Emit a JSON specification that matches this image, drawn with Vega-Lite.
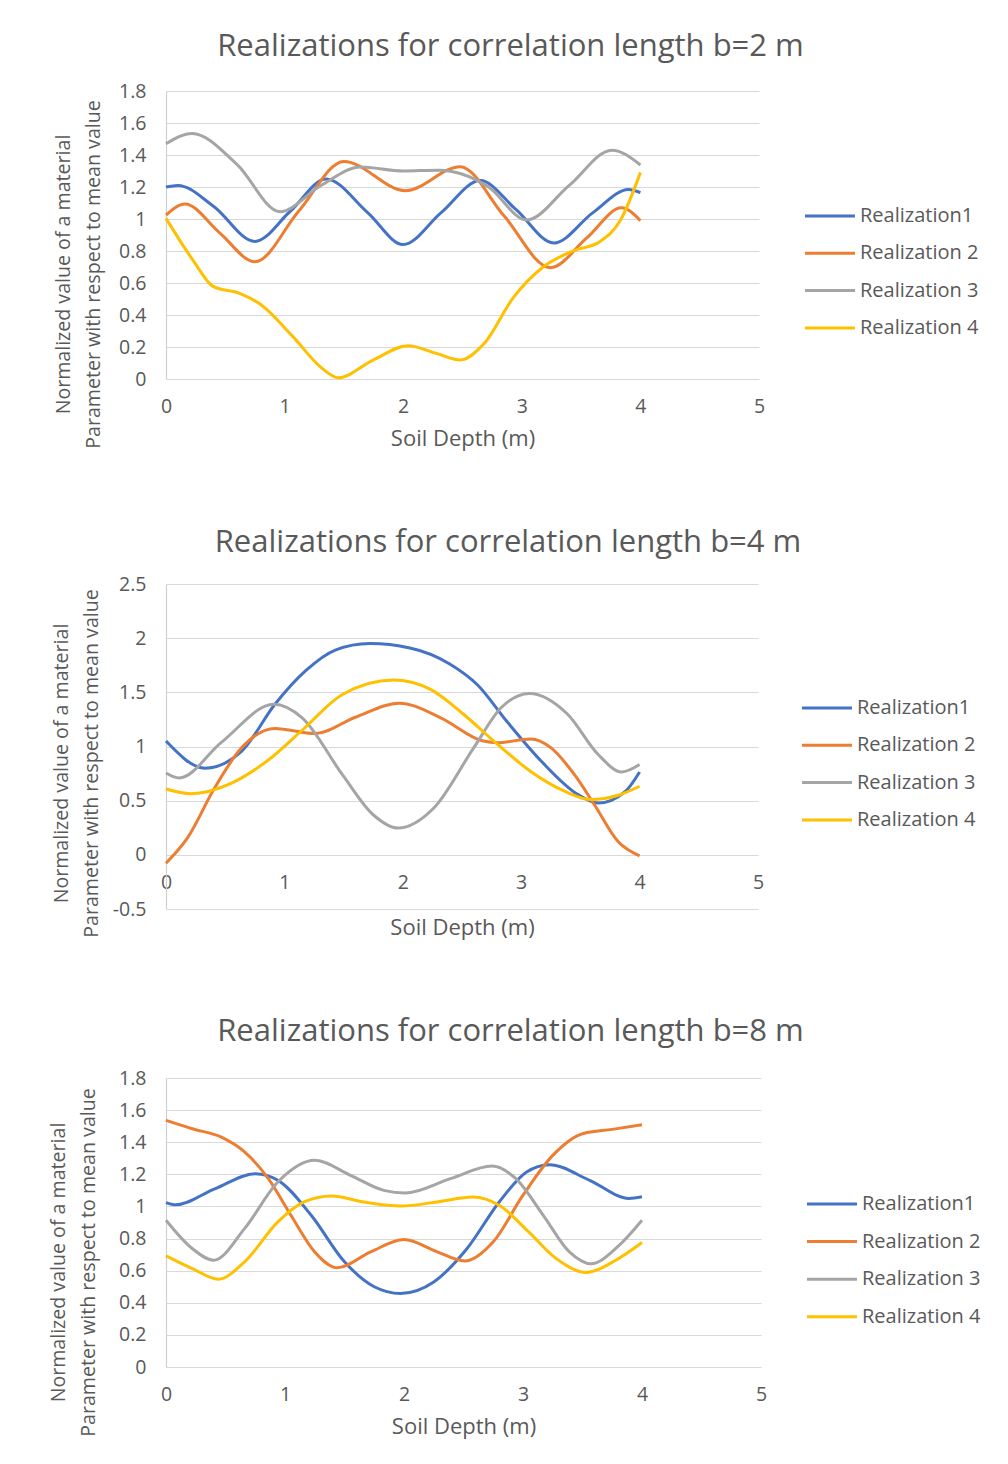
{
  "$schema": "https://vega.github.io/schema/vega-lite/v6.json",
  "background": "white",
  "padding": {"left": 47, "top": 31, "right": 0, "bottom": 10},
  "spacing": 77,
  "resolve": {"scale": {"color": "independent"}, "legend": {"color": "independent"}},
  "datasets": {
    "p1": [
      {"x": 0, "y": 1.2, "s": "Realization1"}, {"x": 0.1, "y": 1.21, "s": "Realization1"}, {"x": 0.4, "y": 1.08, "s": "Realization1"}, {"x": 0.75, "y": 0.86, "s": "Realization1"}, {"x": 1.05, "y": 1.05, "s": "Realization1"}, {"x": 1.35, "y": 1.25, "s": "Realization1"}, {"x": 1.7, "y": 1.04, "s": "Realization1"}, {"x": 2.0, "y": 0.84, "s": "Realization1"}, {"x": 2.32, "y": 1.04, "s": "Realization1"}, {"x": 2.65, "y": 1.24, "s": "Realization1"}, {"x": 2.95, "y": 1.06, "s": "Realization1"}, {"x": 3.27, "y": 0.85, "s": "Realization1"}, {"x": 3.6, "y": 1.04, "s": "Realization1"}, {"x": 3.9, "y": 1.185, "s": "Realization1"}, {"x": 4.0, "y": 1.165, "s": "Realization1"},
      {"x": 0, "y": 1.025, "s": "Realization 2"}, {"x": 0.16, "y": 1.094, "s": "Realization 2"}, {"x": 0.45, "y": 0.915, "s": "Realization 2"}, {"x": 0.75, "y": 0.733, "s": "Realization 2"}, {"x": 1.12, "y": 1.05, "s": "Realization 2"}, {"x": 1.5, "y": 1.36, "s": "Realization 2"}, {"x": 2.02, "y": 1.177, "s": "Realization 2"}, {"x": 2.48, "y": 1.327, "s": "Realization 2"}, {"x": 2.85, "y": 1.02, "s": "Realization 2"}, {"x": 3.24, "y": 0.696, "s": "Realization 2"}, {"x": 3.55, "y": 0.883, "s": "Realization 2"}, {"x": 3.84, "y": 1.07, "s": "Realization 2"}, {"x": 4.0, "y": 0.99, "s": "Realization 2"},
      {"x": 0, "y": 1.47, "s": "Realization 3"}, {"x": 0.22, "y": 1.535, "s": "Realization 3"}, {"x": 0.6, "y": 1.34, "s": "Realization 3"}, {"x": 0.96, "y": 1.046, "s": "Realization 3"}, {"x": 1.3, "y": 1.206, "s": "Realization 3"}, {"x": 1.64, "y": 1.325, "s": "Realization 3"}, {"x": 2.0, "y": 1.3, "s": "Realization 3"}, {"x": 2.3, "y": 1.305, "s": "Realization 3"}, {"x": 2.5, "y": 1.28, "s": "Realization 3"}, {"x": 2.72, "y": 1.2, "s": "Realization 3"}, {"x": 3.04, "y": 0.994, "s": "Realization 3"}, {"x": 3.4, "y": 1.21, "s": "Realization 3"}, {"x": 3.76, "y": 1.43, "s": "Realization 3"}, {"x": 4.0, "y": 1.3375, "s": "Realization 3"},
      {"x": 0, "y": 1.004, "s": "Realization 4"}, {"x": 0.23, "y": 0.74, "s": "Realization 4"}, {"x": 0.4, "y": 0.577, "s": "Realization 4"}, {"x": 0.62, "y": 0.535, "s": "Realization 4"}, {"x": 0.79, "y": 0.47, "s": "Realization 4"}, {"x": 1.07, "y": 0.265, "s": "Realization 4"}, {"x": 1.3, "y": 0.077, "s": "Realization 4"}, {"x": 1.45, "y": 0.008, "s": "Realization 4"}, {"x": 1.75, "y": 0.12, "s": "Realization 4"}, {"x": 2.04, "y": 0.208, "s": "Realization 4"}, {"x": 2.28, "y": 0.16, "s": "Realization 4"}, {"x": 2.48, "y": 0.119, "s": "Realization 4"}, {"x": 2.68, "y": 0.22, "s": "Realization 4"}, {"x": 2.93, "y": 0.51, "s": "Realization 4"}, {"x": 3.18, "y": 0.7, "s": "Realization 4"}, {"x": 3.43, "y": 0.8, "s": "Realization 4"}, {"x": 3.66, "y": 0.86, "s": "Realization 4"}, {"x": 3.83, "y": 0.99, "s": "Realization 4"}, {"x": 4.0, "y": 1.29, "s": "Realization 4"}
    ],
    "p2": [
      {"x": 0, "y": 1.05, "s": "Realization1"}, {"x": 0.33, "y": 0.8, "s": "Realization1"}, {"x": 0.64, "y": 0.957, "s": "Realization1"}, {"x": 0.92, "y": 1.39, "s": "Realization1"}, {"x": 1.18, "y": 1.7, "s": "Realization1"}, {"x": 1.43, "y": 1.89, "s": "Realization1"}, {"x": 1.72, "y": 1.95, "s": "Realization1"}, {"x": 2.06, "y": 1.91, "s": "Realization1"}, {"x": 2.4, "y": 1.76, "s": "Realization1"}, {"x": 2.63, "y": 1.57, "s": "Realization1"}, {"x": 2.88, "y": 1.23, "s": "Realization1"}, {"x": 3.17, "y": 0.864, "s": "Realization1"}, {"x": 3.48, "y": 0.556, "s": "Realization1"}, {"x": 3.65, "y": 0.478, "s": "Realization1"}, {"x": 3.88, "y": 0.586, "s": "Realization1"}, {"x": 4.0, "y": 0.765, "s": "Realization1"},
      {"x": 0, "y": -0.077, "s": "Realization 2"}, {"x": 0.18, "y": 0.154, "s": "Realization 2"}, {"x": 0.41, "y": 0.617, "s": "Realization 2"}, {"x": 0.64, "y": 0.99, "s": "Realization 2"}, {"x": 0.92, "y": 1.167, "s": "Realization 2"}, {"x": 1.26, "y": 1.12, "s": "Realization 2"}, {"x": 1.6, "y": 1.27, "s": "Realization 2"}, {"x": 1.97, "y": 1.4, "s": "Realization 2"}, {"x": 2.32, "y": 1.265, "s": "Realization 2"}, {"x": 2.68, "y": 1.05, "s": "Realization 2"}, {"x": 2.8, "y": 1.034, "s": "Realization 2"}, {"x": 3.08, "y": 1.07, "s": "Realization 2"}, {"x": 3.25, "y": 0.99, "s": "Realization 2"}, {"x": 3.45, "y": 0.74, "s": "Realization 2"}, {"x": 3.62, "y": 0.46, "s": "Realization 2"}, {"x": 3.82, "y": 0.12, "s": "Realization 2"}, {"x": 4.0, "y": -0.01, "s": "Realization 2"},
      {"x": 0, "y": 0.756, "s": "Realization 3"}, {"x": 0.11, "y": 0.71, "s": "Realization 3"}, {"x": 0.47, "y": 1.04, "s": "Realization 3"}, {"x": 0.91, "y": 1.39, "s": "Realization 3"}, {"x": 1.15, "y": 1.265, "s": "Realization 3"}, {"x": 1.49, "y": 0.74, "s": "Realization 3"}, {"x": 1.75, "y": 0.37, "s": "Realization 3"}, {"x": 1.96, "y": 0.247, "s": "Realization 3"}, {"x": 2.26, "y": 0.43, "s": "Realization 3"}, {"x": 2.6, "y": 0.99, "s": "Realization 3"}, {"x": 2.83, "y": 1.358, "s": "Realization 3"}, {"x": 3.07, "y": 1.49, "s": "Realization 3"}, {"x": 3.39, "y": 1.3, "s": "Realization 3"}, {"x": 3.65, "y": 0.926, "s": "Realization 3"}, {"x": 3.85, "y": 0.765, "s": "Realization 3"}, {"x": 4.0, "y": 0.833, "s": "Realization 3"},
      {"x": 0, "y": 0.608, "s": "Realization 4"}, {"x": 0.21, "y": 0.565, "s": "Realization 4"}, {"x": 0.55, "y": 0.66, "s": "Realization 4"}, {"x": 0.87, "y": 0.88, "s": "Realization 4"}, {"x": 1.15, "y": 1.15, "s": "Realization 4"}, {"x": 1.49, "y": 1.48, "s": "Realization 4"}, {"x": 1.92, "y": 1.614, "s": "Realization 4"}, {"x": 2.23, "y": 1.53, "s": "Realization 4"}, {"x": 2.51, "y": 1.3, "s": "Realization 4"}, {"x": 2.8, "y": 1.02, "s": "Realization 4"}, {"x": 3.08, "y": 0.77, "s": "Realization 4"}, {"x": 3.37, "y": 0.586, "s": "Realization 4"}, {"x": 3.59, "y": 0.51, "s": "Realization 4"}, {"x": 3.82, "y": 0.55, "s": "Realization 4"}, {"x": 4.0, "y": 0.633, "s": "Realization 4"}
    ],
    "p3": [
      {"x": 0, "y": 1.024, "s": "Realization1"}, {"x": 0.08, "y": 1.01, "s": "Realization1"}, {"x": 0.41, "y": 1.11, "s": "Realization1"}, {"x": 0.75, "y": 1.204, "s": "Realization1"}, {"x": 0.94, "y": 1.163, "s": "Realization1"}, {"x": 1.22, "y": 0.945, "s": "Realization1"}, {"x": 1.5, "y": 0.655, "s": "Realization1"}, {"x": 1.75, "y": 0.5, "s": "Realization1"}, {"x": 1.97, "y": 0.458, "s": "Realization1"}, {"x": 2.25, "y": 0.53, "s": "Realization1"}, {"x": 2.53, "y": 0.738, "s": "Realization1"}, {"x": 2.8, "y": 1.028, "s": "Realization1"}, {"x": 3.03, "y": 1.214, "s": "Realization1"}, {"x": 3.22, "y": 1.26, "s": "Realization1"}, {"x": 3.56, "y": 1.163, "s": "Realization1"}, {"x": 3.89, "y": 1.05, "s": "Realization1"}, {"x": 4.0, "y": 1.06, "s": "Realization1"},
      {"x": 0, "y": 1.536, "s": "Realization 2"}, {"x": 0.22, "y": 1.484, "s": "Realization 2"}, {"x": 0.47, "y": 1.43, "s": "Realization 2"}, {"x": 0.66, "y": 1.34, "s": "Realization 2"}, {"x": 0.86, "y": 1.173, "s": "Realization 2"}, {"x": 1.05, "y": 0.945, "s": "Realization 2"}, {"x": 1.25, "y": 0.717, "s": "Realization 2"}, {"x": 1.44, "y": 0.618, "s": "Realization 2"}, {"x": 1.72, "y": 0.717, "s": "Realization 2"}, {"x": 2.0, "y": 0.794, "s": "Realization 2"}, {"x": 2.28, "y": 0.717, "s": "Realization 2"}, {"x": 2.51, "y": 0.66, "s": "Realization 2"}, {"x": 2.75, "y": 0.78, "s": "Realization 2"}, {"x": 3.0, "y": 1.07, "s": "Realization 2"}, {"x": 3.25, "y": 1.318, "s": "Realization 2"}, {"x": 3.5, "y": 1.453, "s": "Realization 2"}, {"x": 3.75, "y": 1.48, "s": "Realization 2"}, {"x": 4.0, "y": 1.509, "s": "Realization 2"},
      {"x": 0, "y": 0.914, "s": "Realization 3"}, {"x": 0.22, "y": 0.738, "s": "Realization 3"}, {"x": 0.4, "y": 0.665, "s": "Realization 3"}, {"x": 0.66, "y": 0.862, "s": "Realization 3"}, {"x": 0.94, "y": 1.152, "s": "Realization 3"}, {"x": 1.25, "y": 1.287, "s": "Realization 3"}, {"x": 1.55, "y": 1.194, "s": "Realization 3"}, {"x": 1.83, "y": 1.1, "s": "Realization 3"}, {"x": 2.01, "y": 1.084, "s": "Realization 3"}, {"x": 2.39, "y": 1.173, "s": "Realization 3"}, {"x": 2.74, "y": 1.252, "s": "Realization 3"}, {"x": 2.94, "y": 1.173, "s": "Realization 3"}, {"x": 3.17, "y": 0.945, "s": "Realization 3"}, {"x": 3.39, "y": 0.717, "s": "Realization 3"}, {"x": 3.57, "y": 0.643, "s": "Realization 3"}, {"x": 3.81, "y": 0.759, "s": "Realization 3"}, {"x": 4.0, "y": 0.914, "s": "Realization 3"},
      {"x": 0, "y": 0.692, "s": "Realization 4"}, {"x": 0.22, "y": 0.613, "s": "Realization 4"}, {"x": 0.44, "y": 0.547, "s": "Realization 4"}, {"x": 0.66, "y": 0.655, "s": "Realization 4"}, {"x": 0.94, "y": 0.904, "s": "Realization 4"}, {"x": 1.16, "y": 1.028, "s": "Realization 4"}, {"x": 1.39, "y": 1.065, "s": "Realization 4"}, {"x": 1.66, "y": 1.028, "s": "Realization 4"}, {"x": 1.97, "y": 1.003, "s": "Realization 4"}, {"x": 2.28, "y": 1.028, "s": "Realization 4"}, {"x": 2.58, "y": 1.059, "s": "Realization 4"}, {"x": 2.8, "y": 1.007, "s": "Realization 4"}, {"x": 3.05, "y": 0.84, "s": "Realization 4"}, {"x": 3.28, "y": 0.675, "s": "Realization 4"}, {"x": 3.53, "y": 0.589, "s": "Realization 4"}, {"x": 3.78, "y": 0.665, "s": "Realization 4"}, {"x": 4.0, "y": 0.775, "s": "Realization 4"}
    ]
  },
  "vconcat": [
    {
      "width": 593, "height": 288,
      "title": {"text": "Realizations for correlation length b=2 m", "dx": 48},
      "data": {"name": "p1"},
      "mark": {"type": "line", "interpolate": "monotone", "strokeWidth": 3},
      "encoding": {
        "x": {"field": "x", "type": "quantitative", "scale": {"domain": [0, 5], "nice": false},
          "axis": {"title": "Soil Depth (m)", "values": [0, 1, 2, 3, 4, 5], "grid": false, "domain": false, "titlePadding": 13}},
        "y": {"field": "y", "type": "quantitative", "scale": {"domain": [0, 1.8], "nice": false},
          "axis": {"title": ["Normalized value of a material", "Parameter with respect to mean value"], "values": [0, 0.2, 0.4, 0.6, 0.8, 1, 1.2, 1.4, 1.6, 1.8], "titleX": -103, "titleY": 183}},
        "color": {"field": "s", "type": "nominal", "scale": {"domain": ["Realization1", "Realization 2", "Realization 3", "Realization 4"], "range": ["#4472C4", "#ED7D31", "#A5A5A5", "#FFC000"]},
          "legend": {"legendX": 650, "legendY": 111}}
      }
    },
    {
      "width": 592, "height": 325,
      "title": {"text": "Realizations for correlation length b=4 m", "dx": 46, "offset": 15},
      "data": {"name": "p2"},
      "mark": {"type": "line", "interpolate": "monotone", "strokeWidth": 3},
      "encoding": {
        "x": {"field": "x", "type": "quantitative", "scale": {"domain": [0, 5], "nice": false},
          "axis": {"title": "Soil Depth (m)", "values": [0, 1, 2, 3, 4, 5], "grid": false, "domain": false, "offset": -54, "titlePadding": 26}},
        "y": {"field": "y", "type": "quantitative", "scale": {"domain": [-0.5, 2.5], "nice": false},
          "axis": {"title": ["Normalized value of a material", "Parameter with respect to mean value"], "values": [-0.5, 0, 0.5, 1, 1.5, 2, 2.5], "titleX": -105, "titleY": 179}},
        "color": {"field": "s", "type": "nominal", "scale": {"domain": ["Realization1", "Realization 2", "Realization 3", "Realization 4"], "range": ["#4472C4", "#ED7D31", "#A5A5A5", "#FFC000"]},
          "legend": {"legendX": 647, "legendY": 110}}
      }
    },
    {
      "width": 595, "height": 289,
      "title": {"text": "Realizations for correlation length b=8 m", "dx": 47, "offset": 20},
      "data": {"name": "p3"},
      "mark": {"type": "line", "interpolate": "monotone", "strokeWidth": 3},
      "encoding": {
        "x": {"field": "x", "type": "quantitative", "scale": {"domain": [0, 5], "nice": false},
          "axis": {"title": "Soil Depth (m)", "values": [0, 1, 2, 3, 4, 5], "grid": false, "domain": false, "titlePadding": 13}},
        "y": {"field": "y", "type": "quantitative", "scale": {"domain": [0, 1.8], "nice": false},
          "axis": {"title": ["Normalized value of a material", "Parameter with respect to mean value"], "values": [0, 0.2, 0.4, 0.6, 0.8, 1, 1.2, 1.4, 1.6, 1.8], "titleX": -108, "titleY": 184}},
        "color": {"field": "s", "type": "nominal", "scale": {"domain": ["Realization1", "Realization 2", "Realization 3", "Realization 4"], "range": ["#4472C4", "#ED7D31", "#A5A5A5", "#FFC000"]},
          "legend": {"legendX": 652, "legendY": 112, "rowPadding": 13.6}}
      }
    }
  ],
  "config": {
    "font": "Open Sans",
    "view": {"stroke": null},
    "title": {"fontSize": 31, "fontWeight": "normal", "color": "#595959", "frame": "group", "anchor": "middle", "offset": 18},
    "axis": {
      "labelFontSize": 19.5, "labelColor": "#595959", "titleFontWeight": "normal", "titleColor": "#595959",
      "ticks": false, "gridColor": "#D9D9D9", "gridWidth": 1.2, "domainColor": "#D0D0D0", "domainWidth": 1.2,
      "labelExpr": "'' + datum.value"
    },
    "axisX": {"labelPadding": 18, "titleFontSize": 22, "labelFlush": false},
    "axisY": {"labelPadding": 20, "titleFontSize": 19.6, "titleAngle": -90, "titleBaseline": "middle", "titleAlign": "center", "titleLineHeight": 30},
    "legend": {
      "orient": "none", "title": null, "direction": "vertical", "padding": 0,
      "symbolType": "M-2,0H2", "symbolSize": 625, "symbolStrokeWidth": 3, "symbolStrokeColor": "#000",
      "labelFontSize": 20, "labelColor": "#595959", "labelOffset": 16, "rowPadding": 13.3
    }
  }
}
